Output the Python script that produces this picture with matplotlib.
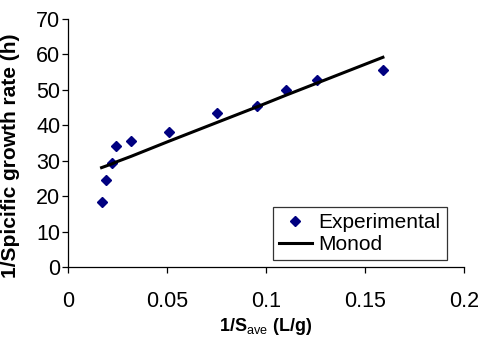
"""Lineweaver-Burk style plot: 1/specific growth rate vs 1/S_ave."""

import matplotlib
matplotlib.use("Agg")
import matplotlib.pyplot as plt

plt.rcParams["font.family"] = ["Liberation Sans", "DejaVu Sans"]
plt.rcParams["mathtext.fontset"] = "custom"
plt.rcParams["mathtext.rm"] = "Liberation Sans"
plt.rcParams["mathtext.bf"] = "Liberation Sans:bold"

# --- Data ---
inv_s = [0.017, 0.019, 0.0224, 0.0244, 0.032, 0.0508, 0.0751,
         0.0953, 0.110, 0.1256, 0.159]
inv_mu_exp = [18.5, 24.6, 29.5, 34.2, 35.5, 38.2, 43.5,
              45.6, 50.0, 52.9, 55.6]
inv_mu_monod = [28.1, 28.5, 29.2, 29.7, 31.3, 35.5, 40.8,
                45.2, 48.5, 51.9, 59.2]

x_ticks = [0, 0.05, 0.1, 0.15, 0.2]
x_tick_labels = ["0", "0.05", "0.1", "0.15", "0.2"]
y_ticks = [0, 10, 20, 30, 40, 50, 60, 70]

fig = plt.figure(figsize=(4.85, 3.39), dpi=100)
ax = fig.add_axes([0.140, 0.2115, 0.817, 0.7325])

ax.plot(inv_s, inv_mu_exp, linestyle="none", marker="D", markersize=5.5,
        color="#000080", label="Experimental")
ax.plot(inv_s, inv_mu_monod, color="black", linewidth=2.2, label="Monod")

ax.set_xlim(0, 0.2)
ax.set_ylim(0, 70)
ax.set_xticks(x_ticks)
ax.set_xticklabels(x_tick_labels)
ax.set_yticks(y_ticks)

for side in ("top", "right"):
    ax.spines[side].set_visible(False)
for side in ("left", "bottom"):
    ax.spines[side].set_linewidth(0.9)

ax.tick_params(axis="x", direction="out", length=4, width=0.9,
               labelsize=15.5, pad=13)
ax.tick_params(axis="y", direction="out", length=4, width=0.9,
               labelsize=15.5, pad=1.5)

ax.set_ylabel("1/Spicific growth rate (h)", fontsize=15, fontweight="bold")
ax.yaxis.set_label_coords(-0.121, 0.448)
ax.set_xlabel(r"$\mathbf{1/S}$" + r"$_{\mathrm{ave}}$" + r"$\mathbf{\ (L/g)}$",
              fontsize=13)
ax.xaxis.set_label_coords(0.5, -0.198)

leg = ax.legend(loc="lower right", bbox_to_anchor=(0.956, 0.028),
                borderaxespad=0, fontsize=15, frameon=True, fancybox=False,
                edgecolor="black", handlelength=1.6, handletextpad=0.3,
                labelspacing=0.15, borderpad=0.3)
leg.get_frame().set_linewidth(0.9)

fig.savefig("out.png", dpi=100)
